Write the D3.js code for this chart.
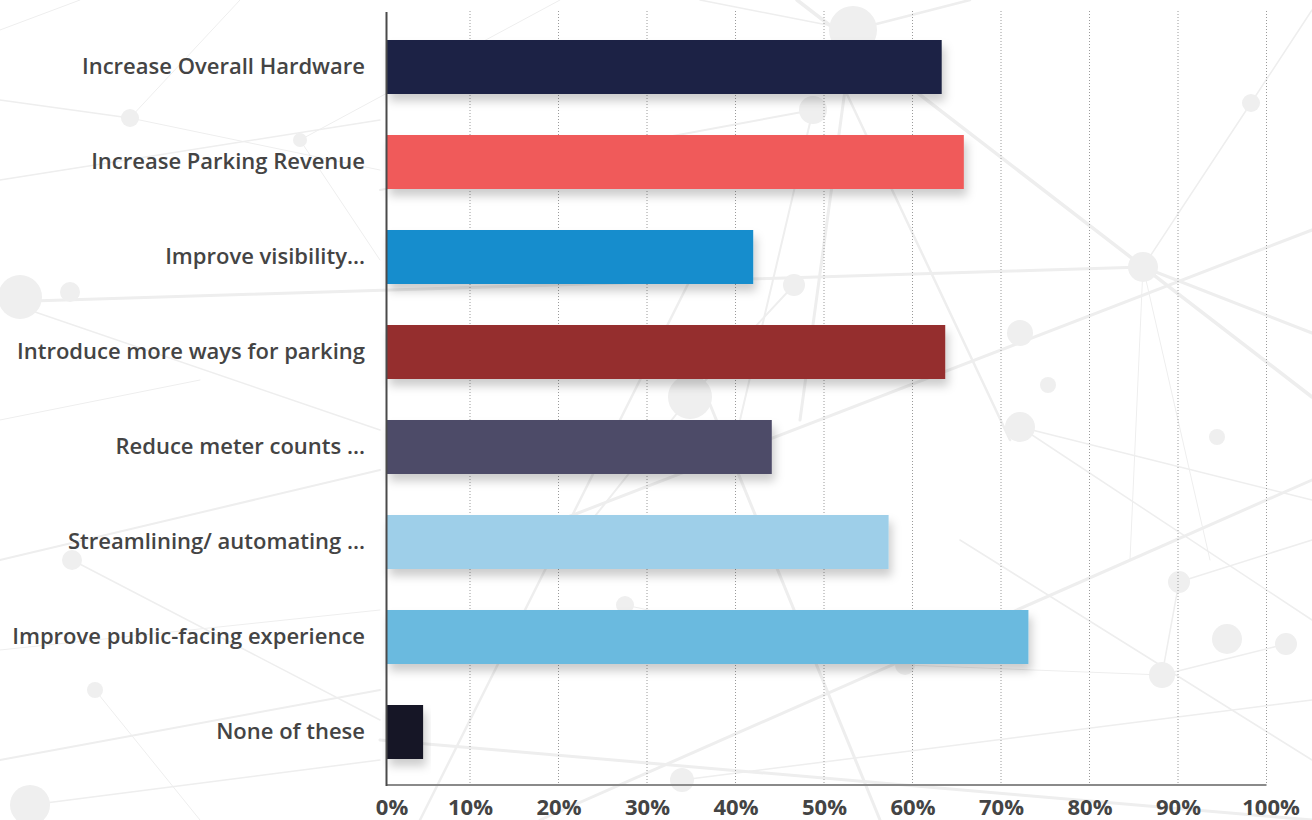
<!DOCTYPE html>
<html>
<head>
<meta charset="utf-8">
<script src="https://cdn.jsdelivr.net/npm/d3@7"></script>
<style>
  html, body { margin: 0; padding: 0; background: #ffffff; }
  svg { display: block; }
</style>
</head>
<body>
<svg id="chart" width="1312" height="820"></svg>
<script>
// Survey answers: share of respondents (%) per goal
const categories = [
  "Increase Overall Hardware",
  "Increase Parking Revenue",
  "Improve visibility...",
  "Introduce more ways for parking",
  "Reduce meter counts ...",
  "Streamlining/ automating ...",
  "Improve public-facing experience",
  "None of these"
];
const values = [63.3, 65.8, 42.0, 63.7, 44.1, 57.3, 73.1, 4.7];
const barColors = ["#1f2244", "#f05a5a", "#138dcd", "#952d2f", "#4d4b68", "#9ecfe9", "#6abadf", "#161626"];
const tickValues = [0, 10, 20, 30, 40, 50, 60, 70, 80, 90, 100];
const tickLabels = ["0%", "10%", "20%", "30%", "40%", "50%", "60%", "70%", "80%", "90%", "100%"];

// Decorative network backdrop: nodes [x, y, r] and links [x1, y1, x2, y2, width]
const netNodes = [
  [853, 30, 24], [813, 110, 14], [794, 285, 11], [690, 397, 22], [1143, 267, 15],
  [1251, 103, 9], [1020, 333, 13], [1048, 385, 8], [20, 297, 22], [70, 292, 10],
  [1020, 427, 15], [1162, 675, 13], [1286, 644, 11], [1227, 639, 15], [1179, 582, 11],
  [682, 780, 12], [130, 118, 9], [72, 560, 10], [95, 690, 8], [30, 805, 20],
  [1217, 437, 8], [905, 665, 10], [625, 605, 9], [300, 140, 7]
];
const netLinks = [
  [0, 302, 1143, 267, 3], [1143, 267, 1312, 333, 3], [1143, 267, 1251, 103, 1.5],
  [1251, 103, 1312, 10, 1.5], [797, 0, 1312, 397, 3.5], [1312, 230, 560, 520, 3],
  [853, 30, 970, 0, 2.5], [813, 110, 380, 190, 2], [853, 30, 700, 0, 1.5],
  [845, 90, 800, 420, 3], [845, 90, 1010, 440, 2.5], [813, 110, 740, 420, 2],
  [794, 285, 690, 397, 2], [690, 397, 560, 560, 2], [1143, 267, 1130, 560, 1],
  [1143, 267, 1210, 560, 1], [1312, 500, 1020, 427, 1.5], [1020, 427, 1312, 620, 1.5],
  [0, 300, 380, 430, 1.5], [0, 180, 380, 120, 1.5], [0, 100, 130, 118, 1.5],
  [130, 118, 380, 170, 1], [130, 118, 240, 0, 1], [0, 560, 380, 470, 2],
  [72, 560, 380, 720, 1.5], [0, 650, 380, 610, 1], [0, 760, 380, 690, 2],
  [95, 690, 200, 820, 1], [30, 805, 380, 760, 1.5], [540, 820, 1312, 480, 3],
  [380, 740, 1312, 820, 3], [420, 820, 700, 260, 2.5], [880, 820, 700, 380, 3],
  [1162, 675, 1286, 644, 1.5], [1162, 675, 1179, 582, 1.5], [1179, 582, 1312, 540, 1.5],
  [682, 780, 1312, 700, 1.5], [905, 665, 1162, 675, 1], [625, 605, 905, 665, 1],
  [1312, 760, 960, 540, 1.5], [300, 140, 560, 0, 1], [300, 140, 380, 260, 1],
  [0, 420, 200, 380, 1], [0, 30, 80, 0, 1]
];

const W = 1312, H = 820;
const svg = d3.select("#chart");

// drop shadow for bars, soft blur for the backdrop
const defs = svg.append("defs");
const f = defs.append("filter").attr("id", "barShadow")
  .attr("x", "-10%").attr("y", "-30%").attr("width", "130%").attr("height", "190%");
f.append("feDropShadow").attr("dx", 3).attr("dy", 7).attr("stdDeviation", 5)
  .attr("flood-color", "#000").attr("flood-opacity", 0.2);
defs.append("filter").attr("id", "soft")
  .append("feGaussianBlur").attr("stdDeviation", 0.6);

// backdrop
const bg = svg.append("g").attr("class", "backdrop").attr("filter", "url(#soft)");
bg.selectAll("line").data(netLinks).join("line")
  .attr("x1", d => d[0]).attr("y1", d => d[1]).attr("x2", d => d[2]).attr("y2", d => d[3])
  .attr("stroke", "#eeeeee").attr("stroke-width", d => d[4]).attr("stroke-linecap", "round");
bg.selectAll("circle").data(netNodes).join("circle")
  .attr("cx", d => d[0]).attr("cy", d => d[1]).attr("r", d => d[2])
  .attr("fill", "#efefef");

// scales
const x = d3.scaleLinear().domain([0, 100]).range([381.5, 1266.5]);
const y = d3.scaleBand().domain(categories).range([19.5, 779.5])
  .paddingInner(0.4316).paddingOuter(0.2158);

const axisX = 386.5;
const plotTop = 11, plotBottom = 785;

// dotted vertical gridlines
svg.append("g").selectAll("line").data(tickValues.filter(v => v > 0)).join("line")
  .attr("x1", d => x(d)).attr("x2", d => x(d))
  .attr("y1", plotTop).attr("y2", plotBottom)
  .attr("stroke", "#9a9a9a").attr("stroke-width", 1).attr("stroke-dasharray", "1,2");

// bars
svg.append("g").selectAll("rect").data(values).join("rect")
  .attr("x", axisX)
  .attr("y", (d, i) => y(categories[i]))
  .attr("width", d => x(d) - axisX)
  .attr("height", y.bandwidth())
  .attr("fill", (d, i) => barColors[i])
  .attr("filter", "url(#barShadow)");

// axis lines
svg.append("line").attr("x1", axisX).attr("x2", x(100)).attr("y1", plotBottom).attr("y2", plotBottom)
  .attr("stroke", "#8a8a8a").attr("stroke-width", 2);
svg.append("line").attr("x1", axisX).attr("x2", axisX).attr("y1", plotTop + 1).attr("y2", plotBottom + 1)
  .attr("stroke", "#4a4a4a").attr("stroke-width", 2);

// category labels
const yAxis = d3.axisLeft(y).tickSize(0).tickPadding(0);
const yg = svg.append("g").attr("transform", `translate(365,0)`).call(yAxis);
yg.select(".domain").remove();
yg.selectAll("text")
  .attr("font-family", "'Open Sans', sans-serif")
  .attr("font-size", 22).attr("font-weight", 600)
  .attr("fill", "#444444").attr("dy", "0.32em");

// percentage labels along the bottom
const xAxis = d3.axisBottom(x).tickValues(tickValues)
  .tickFormat((d, i) => tickLabels[i]).tickSize(0).tickPadding(0);
const xg = svg.append("g").attr("transform", `translate(0,799)`).call(xAxis);
xg.select(".domain").remove();
xg.selectAll("text")
  .attr("font-family", "'Open Sans', sans-serif")
  .attr("font-size", 22).attr("font-weight", 700)
  .attr("fill", "#444444").attr("dy", "0.72em")
  .attr("dx", (d, i) => i === 0 ? 10 : (i === tickValues.length - 1 ? 4 : 0));
</script>
</body>
</html>
